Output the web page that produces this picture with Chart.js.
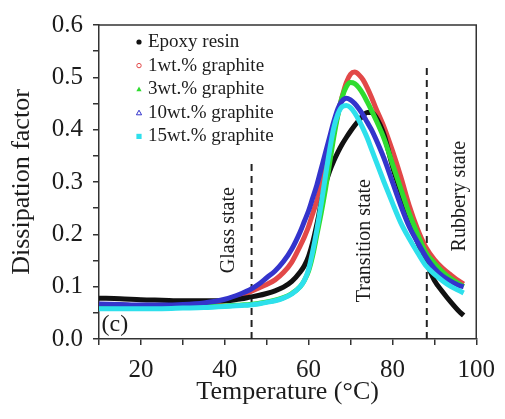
<!DOCTYPE html>
<html><head><meta charset="utf-8">
<script src="https://cdn.jsdelivr.net/npm/chart.js@4.4.0/dist/chart.umd.min.js"></script>
<style>html,body{margin:0;padding:0;background:#fff;}#wrap{width:505px;height:419px;}</style>
</head><body><div id="wrap"><canvas id="c" width="505" height="419"></canvas></div>
<script>
const temperature = [10,15,20,25,30,35,40,44,46,48,50,52,54,56,58,59,60,61,62,63,64,65,66,67,68,69,70,71,72,73,74,75,76,78,80,82,84,86,88,90,92,94,96,97];
const epoxyResin = [.078,.077,.075,.074,.073,.073,.073,.077,.080,.083,.087,.092,.099,.110,.128,.140,.158,.185,.220,.260,.295,.320,.340,.357,.372,.385,.397,.408,.418,.427,.433,.433,.425,.390,.330,.280,.228,.185,.148,.112,.090,.070,.052,.045];
const graphite1 = [.066,.065,.064,.064,.065,.067,.073,.083,.090,.097,.104,.113,.127,.147,.178,.195,.215,.240,.265,.295,.327,.360,.395,.430,.463,.490,.506,.510,.505,.495,.480,.462,.442,.405,.360,.310,.255,.210,.175,.152,.135,.122,.110,.105];
const graphite3 = [.060,.060,.060,.060,.061,.062,.063,.065,.066,.068,.071,.074,.079,.087,.100,.112,.130,.160,.200,.240,.285,.335,.385,.428,.462,.482,.490,.488,.480,.468,.453,.437,.420,.383,.335,.287,.240,.200,.165,.145,.128,.115,.105,.100];
const graphite10 = [.067,.066,.065,.065,.066,.069,.076,.087,.094,.104,.117,.130,.148,.172,.205,.225,.245,.270,.295,.325,.355,.385,.415,.440,.455,.460,.457,.450,.440,.428,.414,.400,.383,.345,.300,.255,.215,.185,.157,.135,.120,.110,.102,.100];
const graphite15 = [.058,.058,.058,.058,.059,.060,.062,.064,.065,.067,.070,.073,.078,.086,.100,.112,.133,.168,.210,.258,.310,.360,.403,.430,.444,.446,.442,.432,.418,.402,.384,.363,.342,.300,.260,.222,.192,.165,.140,.124,.111,.100,.092,.088];
const seriesLabels = ['Epoxy resin','1wt.% graphite','3wt.% graphite','10wt.% graphite','15wt.% graphite'];
const xTickLabels = [20,40,60,80,100];
const glassLineX = 46.4, glassLineTop = 0.34;
const rubberyLineX = 88.2, rubberyLineTop = 0.522;

const colors = ['#111111','#e24848','#2fdc2f','#3434cc','#2ee0ec'];
const shapes = ['dot','circle','triangle','triangleO','square'];
const series = [epoxyResin, graphite1, graphite3, graphite10, graphite15];
const pts = arr => temperature.map((t,i)=>({x:t,y:arr[i]}));

const drawOrder = [4,3,2,0,1]; // first drawn on top
const datasets = drawOrder.map(i => ({
  label: seriesLabels[i], data: pts(series[i]), borderColor: colors[i], backgroundColor: colors[i],
  borderWidth: 5, pointRadius: 0, cubicInterpolationMode: 'monotone', fill: false
}));
datasets.push({label:'glass', data:[{x:glassLineX,y:0},{x:glassLineX,y:glassLineTop}], borderColor:'#222', borderWidth:2, borderDash:[7,5], pointRadius:0});
datasets.push({label:'rubbery', data:[{x:rubberyLineX,y:0},{x:rubberyLineX,y:rubberyLineTop}], borderColor:'#222', borderWidth:2, borderDash:[7,5], pointRadius:0});

const FONT = "'Liberation Serif','Times New Roman',serif";
const TXT = '#1c1c1c';

const decor = {
  id: 'decor',
  afterDatasetsDraw(chart) {
    const {ctx, chartArea: a, scales: {x, y}} = chart;
    ctx.save();
    ctx.strokeStyle = '#333'; ctx.lineWidth = 1.5;
    ctx.beginPath(); ctx.moveTo(a.left, a.top); ctx.lineTo(a.right, a.top); ctx.lineTo(a.right, a.bottom); ctx.stroke();
    ctx.fillStyle = TXT;
    const rot = (text, xv, yv) => {
      ctx.save(); ctx.translate(x.getPixelForValue(xv), y.getPixelForValue(yv)); ctx.rotate(-Math.PI/2);
      ctx.font = '20px ' + FONT; ctx.textAlign = 'center'; ctx.textBaseline = 'middle';
      ctx.fillText(text, 0, 0); ctx.restore();
    };
    rot('Glass state', 40.9, 0.208);
    rot('Transition state', 73.5, 0.188);
    rot('Rubbery state', 96.0, 0.273);
    ctx.font = '24px ' + FONT; ctx.textAlign = 'left'; ctx.textBaseline = 'middle';
    ctx.fillText('(c)', x.getPixelForValue(10.6), y.getPixelForValue(0.027));
    // legend
    const mx = a.left + 40, tx = a.left + 49;
    seriesLabels.forEach((lab, i) => {
      const yy = a.top + 17 + i * 23.6;
      ctx.fillStyle = colors[i]; ctx.strokeStyle = colors[i]; ctx.lineWidth = 1;
      const s = shapes[i];
      ctx.beginPath();
      if (s === 'dot') { ctx.arc(mx, yy, 2.6, 0, Math.PI*2); ctx.fill(); }
      else if (s === 'circle') { ctx.arc(mx, yy, 2.2, 0, Math.PI*2); ctx.stroke(); }
      else if (s === 'triangle' || s === 'triangleO') { ctx.moveTo(mx, yy-2.6); ctx.lineTo(mx+2.6, yy+2); ctx.lineTo(mx-2.6, yy+2); ctx.closePath(); if (s==='triangle') ctx.fill(); else ctx.stroke(); }
      else { ctx.rect(mx-2.6, yy-2.6, 5.2, 5.2); ctx.fill(); }
      ctx.fillStyle = TXT; ctx.font = '19px ' + FONT; ctx.textAlign = 'left'; ctx.textBaseline = 'middle';
      ctx.fillText(lab, tx, yy);
    });
    ctx.restore();
  }
};

new Chart(document.getElementById('c'), {
  type: 'line',
  data: { datasets },
  plugins: [decor],
  options: {
    responsive: false, animation: false, devicePixelRatio: 1,
    layout: { padding: { top: 24, right: 22, left: 0, bottom: 0 } },
    plugins: { legend: { display: false }, tooltip: { enabled: false } },
    scales: {
      x: {
        type: 'linear', min: 10, max: 100,
        afterFit: s => { s.height = 80; },
        border: { display: true, color: '#333', width: 1.5 },
        grid: { drawOnChartArea: false, drawTicks: true, tickLength: 6, color: '#333', lineWidth: 1.5 },
        ticks: { stepSize: 10, padding: 10, color: TXT, font: { family: FONT, size: 25 }, maxRotation: 0, autoSkip: false,
          callback: v => xTickLabels.includes(v) ? String(v) : '' },
        title: { display: true, text: 'Temperature (°C)', color: TXT, font: { family: FONT, size: 26 }, padding: { top: 0, bottom: 11 } }
      },
      y: {
        min: 0, max: 0.6,
        afterFit: s => { s.width = 99; },
        border: { display: true, color: '#333', width: 1.5 },
        grid: { drawOnChartArea: false, drawTicks: true, tickLength: 6, color: '#333', lineWidth: 1.5 },
        ticks: { stepSize: 0.05, padding: 10, color: TXT, font: { family: FONT, size: 25 }, autoSkip: false,
          callback: v => (Math.round(v * 100) % 10 === 0) ? v.toFixed(1) : '' },
        title: { display: true, text: 'Dissipation factor', color: TXT, font: { family: FONT, size: 26 }, padding: { top: 7, bottom: 0 } }
      }
    }
  }
});
</script></body></html>
